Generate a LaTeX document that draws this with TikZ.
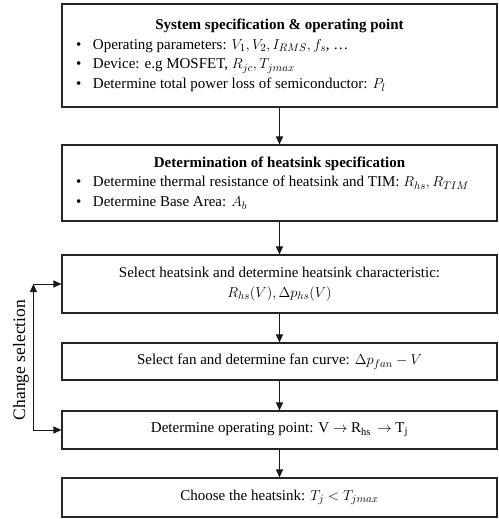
\documentclass[tikz,border=0pt]{standalone}
\usepackage{fontspec}
\setmainfont{Liberation Serif}
\usetikzlibrary{arrows.meta,positioning}
\newcommand{\bitem}[1]{\par\noindent\makebox[17pt][l]{\textbullet}#1}

\begin{document}
\begin{tikzpicture}[x=1pt,y=-1pt,>={Triangle[width=7pt,length=8pt]},
      font=\fontsize{15}{19.5}\selectfont,
      box/.style={draw=black!85,line width=1.1pt,minimum width=435pt,
                  inner sep=0pt,align=center},
      list/.style={box,text width=407pt,align=none},
      link/.style={->,line width=1pt,draw=black!90}]
    \useasboundingbox (0,0) rectangle (498,519);
    \node[list,minimum height=103pt] (spec) at (279.5,55.5)
      {{\centering\textbf{System specification \& operating point}\par}
       \bitem{Operating parameters: $V_1, V_2, I_{RMS}, f_s$, \dots}
       \bitem{Device: e.g MOSFET, $R_{jc}, T_{jmax}$}
       \bitem{Determine total power loss of semiconductor: $P_l$}};
    \node[list,minimum height=76pt] (sink) at (279.5,183)
      {{\centering\textbf{Determination of heatsink specification}\par}
       \bitem{Determine thermal resistance of heatsink and TIM: $R_{hs}, R_{TIM}$}
       \bitem{Determine Base Area: $A_b$}};
    \node[box,minimum height=58pt] (select) at (279.5,284)
      {Select heatsink and determine heatsink characteristic:\\
       $R_{hs}(V), \Delta p_{hs}(V)$};
    \node[box,minimum height=37pt] (fan) at (279.5,361.5)
      {Select fan and determine fan curve: $\Delta p_{fan} - V$};
    \node[box,minimum height=38pt] (oppoint) at (279.5,430)
      {Determine operating point: V $\rightarrow$ R\textsubscript{hs} \,$\rightarrow$ T\textsubscript{j}};
    \node[box,minimum height=39pt] (choose) at (279.5,497.5)
      {Choose the heatsink: $T_j < T_{jmax}$};
    \draw[link] (spec) -- (sink);
    \draw[link] (sink) -- (select);
    \draw[link] (select) -- (fan);
    \draw[link] (fan) -- (oppoint);
    \draw[link] (oppoint) -- (choose);
    % loop back on the left
    \coordinate (up) at ([xshift=-28pt]select.west);
    \coordinate (lo) at ([xshift=-28pt]oppoint.west);
    \draw[link] (lo) -- (up);
    \draw[link] (up) -- (select.west);
    \draw[link] (lo) -- (oppoint.west);
    \node[rotate=90,font=\fontsize{17.5}{20}\selectfont] (change) at (21,360) {Change selection};
  \end{tikzpicture}
\end{document}
